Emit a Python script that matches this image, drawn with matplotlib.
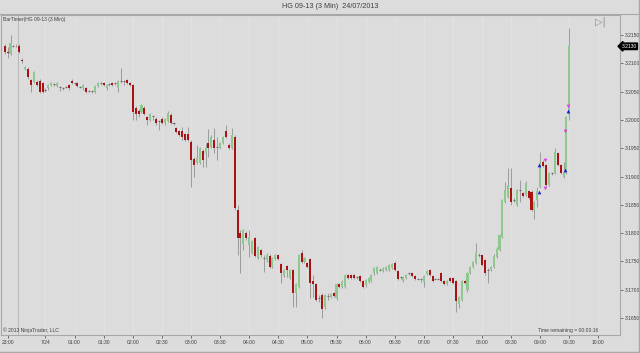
import numpy as np
import matplotlib
matplotlib.use("Agg")
import matplotlib.pyplot as plt

# HG 09-13, 3 minute bars, 23:48 -> 09:30
opens = [
    3.2131, 3.2120, 3.2116, 3.2131, 3.2131, 3.2131, 3.2106, 3.2090, 3.2090, 3.2070,
    3.2067, 3.2067, 3.2069, 3.2065, 3.2053, 3.2056, 3.2062, 3.2063, 3.2060, 3.2058,
    3.2056, 3.2058, 3.2062, 3.2069, 3.2065, 3.2065, 3.2058, 3.2056, 3.2056, 3.2051,
    3.2051, 3.2049, 3.2060, 3.2065, 3.2065, 3.2056, 3.2063, 3.2065, 3.2065, 3.2056,
    3.2069, 3.2069, 3.2070, 3.2065, 3.2062, 3.2021, 3.2016, 3.2014, 3.2021, 3.2005,
    3.2000, 3.2007, 3.2002, 3.1998, 3.2002, 3.1994, 3.1998, 3.2009, 3.1994, 3.1986,
    3.1980, 3.1980, 3.1975, 3.1975, 3.1961, 3.1931, 3.1924, 3.1924, 3.1945, 3.1941,
    3.1959, 3.1952, 3.1964, 3.1952, 3.1950, 3.1959, 3.1980, 3.1956, 3.1950, 3.1970,
    3.1841, 3.1800, 3.1781, 3.1800, 3.1779, 3.1765, 3.1791, 3.1756, 3.1770, 3.1756,
    3.1752, 3.1760, 3.1740, 3.1754, 3.1761, 3.1745, 3.1724, 3.1742, 3.1721, 3.1735,
    3.1694, 3.1705, 3.1765, 3.1749, 3.1747, 3.1754, 3.1715, 3.1710, 3.1685, 3.1691,
    3.1669, 3.1689, 3.1687, 3.1694, 3.1685, 3.1710, 3.1705, 3.1705, 3.1726, 3.1726,
    3.1726, 3.1722, 3.1724, 3.1715, 3.1708, 3.1714, 3.1715, 3.1729, 3.1729, 3.1735,
    3.1733, 3.1735, 3.1735, 3.1738, 3.1747, 3.1733, 3.1722, 3.1715, 3.1721, 3.1729,
    3.1729, 3.1724, 3.1719, 3.1719, 3.1714, 3.1728, 3.1735, 3.1724, 3.1719, 3.1719,
    3.1729, 3.1715, 3.1710, 3.1721, 3.1721, 3.1715, 3.1675, 3.1682, 3.1715, 3.1699,
    3.1729, 3.1740, 3.1747, 3.1761, 3.1761, 3.1752, 3.1735, 3.1735, 3.1740, 3.1758,
    3.1770, 3.1793, 3.1855, 3.1864, 3.1880, 3.1858, 3.1850, 3.1876, 3.1871, 3.1867,
    3.1874, 3.1873, 3.1841, 3.1858, 3.1881, 3.1926, 3.1920, 3.1885, 3.1906, 3.1906,
    3.1941, 3.1920, 3.1899, 3.1908, 3.2009,
]
highs = [
    3.2134, 3.2129, 3.2150, 3.2133, 3.2134, 3.2134, 3.2109, 3.2095, 3.2093, 3.2072,
    3.2087, 3.2070, 3.2072, 3.2067, 3.2056, 3.2063, 3.2067, 3.2065, 3.2067, 3.2060,
    3.2058, 3.2060, 3.2063, 3.2072, 3.2067, 3.2067, 3.2060, 3.2063, 3.2058, 3.2053,
    3.2053, 3.2062, 3.2067, 3.2067, 3.2067, 3.2063, 3.2065, 3.2067, 3.2067, 3.2070,
    3.2092, 3.2070, 3.2072, 3.2067, 3.2063, 3.2024, 3.2019, 3.2028, 3.2024, 3.2007,
    3.2012, 3.2009, 3.2005, 3.2000, 3.2005, 3.2003, 3.2016, 3.2012, 3.1996, 3.1988,
    3.1982, 3.1987, 3.1977, 3.1987, 3.1964, 3.1934, 3.1956, 3.1952, 3.1948, 3.1959,
    3.1984, 3.1973, 3.1986, 3.1970, 3.1961, 3.1972, 3.1991, 3.1959, 3.1986, 3.1973,
    3.1850, 3.1805, 3.1807, 3.1803, 3.1805, 3.1788, 3.1793, 3.1777, 3.1772, 3.1761,
    3.1765, 3.1763, 3.1758, 3.1763, 3.1763, 3.1747, 3.1737, 3.1744, 3.1737, 3.1737,
    3.1712, 3.1763, 3.1770, 3.1758, 3.1749, 3.1756, 3.1726, 3.1712, 3.1691, 3.1694,
    3.1693, 3.1694, 3.1694, 3.1696, 3.1712, 3.1712, 3.1717, 3.1728, 3.1728, 3.1728,
    3.1728, 3.1724, 3.1726, 3.1717, 3.1719, 3.1722, 3.1728, 3.1740, 3.1742, 3.1738,
    3.1740, 3.1742, 3.1745, 3.1747, 3.1751, 3.1735, 3.1724, 3.1724, 3.1728, 3.1731,
    3.1731, 3.1726, 3.1721, 3.1721, 3.1726, 3.1735, 3.1737, 3.1726, 3.1721, 3.1721,
    3.1731, 3.1717, 3.1717, 3.1722, 3.1722, 3.1717, 3.1689, 3.1717, 3.1717, 3.1731,
    3.1742, 3.1751, 3.1782, 3.1765, 3.1763, 3.1754, 3.1738, 3.1742, 3.1763, 3.1775,
    3.1798, 3.1860, 3.1890, 3.1915, 3.1915, 3.1862, 3.1878, 3.1894, 3.1873, 3.1892,
    3.1876, 3.1876, 3.1857, 3.1881, 3.1943, 3.1929, 3.1922, 3.1908, 3.1908, 3.1950,
    3.1943, 3.1922, 3.1926, 3.2007, 3.2162,
]
lows = [
    3.2116, 3.2109, 3.2114, 3.2129, 3.2129, 3.2118, 3.2101, 3.2088, 3.2073, 3.2049,
    3.2065, 3.2060, 3.2047, 3.2047, 3.2049, 3.2053, 3.2060, 3.2060, 3.2058, 3.2051,
    3.2053, 3.2056, 3.2053, 3.2063, 3.2062, 3.2058, 3.2056, 3.2053, 3.2047, 3.2049,
    3.2047, 3.2047, 3.2058, 3.2062, 3.2060, 3.2053, 3.2060, 3.2060, 3.2062, 3.2049,
    3.2065, 3.2062, 3.2063, 3.2060, 3.2000, 3.2000, 3.2005, 3.2012, 3.2009, 3.1991,
    3.1998, 3.2000, 3.1991, 3.1982, 3.1993, 3.1991, 3.1996, 3.1993, 3.1991, 3.1977,
    3.1972, 3.1964, 3.1963, 3.1963, 3.1881, 3.1899, 3.1922, 3.1922, 3.1917, 3.1917,
    3.1934, 3.1950, 3.1941, 3.1929, 3.1948, 3.1957, 3.1968, 3.1948, 3.1948, 3.1841,
    3.1761, 3.1729, 3.1770, 3.1788, 3.1758, 3.1763, 3.1758, 3.1754, 3.1758, 3.1731,
    3.1749, 3.1738, 3.1738, 3.1752, 3.1752, 3.1712, 3.1722, 3.1722, 3.1719, 3.1669,
    3.1669, 3.1703, 3.1747, 3.1747, 3.1738, 3.1685, 3.1687, 3.1680, 3.1678, 3.1650,
    3.1666, 3.1682, 3.1685, 3.1687, 3.1682, 3.1703, 3.1703, 3.1703, 3.1719, 3.1719,
    3.1719, 3.1719, 3.1714, 3.1703, 3.1705, 3.1712, 3.1714, 3.1726, 3.1728, 3.1733,
    3.1731, 3.1733, 3.1733, 3.1736, 3.1733, 3.1717, 3.1719, 3.1714, 3.1719, 3.1726,
    3.1722, 3.1717, 3.1717, 3.1714, 3.1705, 3.1726, 3.1724, 3.1714, 3.1717, 3.1717,
    3.1714, 3.1708, 3.1708, 3.1714, 3.1710, 3.1661, 3.1668, 3.1680, 3.1710, 3.1696,
    3.1728, 3.1738, 3.1745, 3.1758, 3.1742, 3.1726, 3.1712, 3.1733, 3.1738, 3.1756,
    3.1768, 3.1791, 3.1853, 3.1862, 3.1850, 3.1855, 3.1848, 3.1855, 3.1864, 3.1866,
    3.1860, 3.1839, 3.1825, 3.1846, 3.1879, 3.1917, 3.1883, 3.1883, 3.1903, 3.1904,
    3.1918, 3.1904, 3.1897, 3.1904, 3.2000,
]
closes = [
    3.2120, 3.2118, 3.2136, 3.2131, 3.2130, 3.2120, 3.2104, 3.2093, 3.2076, 3.2062,
    3.2085, 3.2062, 3.2049, 3.2049, 3.2053, 3.2062, 3.2065, 3.2063, 3.2065, 3.2058,
    3.2056, 3.2058, 3.2056, 3.2065, 3.2065, 3.2060, 3.2058, 3.2062, 3.2049, 3.2051,
    3.2051, 3.2060, 3.2065, 3.2065, 3.2062, 3.2062, 3.2063, 3.2062, 3.2065, 3.2069,
    3.2069, 3.2069, 3.2065, 3.2062, 3.2014, 3.2010, 3.2010, 3.2026, 3.2010, 3.2000,
    3.2010, 3.2007, 3.1994, 3.1998, 3.1994, 3.2002, 3.2012, 3.1994, 3.1994, 3.1979,
    3.1973, 3.1970, 3.1964, 3.1964, 3.1929, 3.1920, 3.1933, 3.1950, 3.1929, 3.1950,
    3.1950, 3.1970, 3.1950, 3.1952, 3.1959, 3.1970, 3.1970, 3.1950, 3.1973, 3.1844,
    3.1791, 3.1791, 3.1805, 3.1791, 3.1793, 3.1786, 3.1760, 3.1775, 3.1761, 3.1756,
    3.1761, 3.1740, 3.1756, 3.1761, 3.1754, 3.1729, 3.1735, 3.1735, 3.1735, 3.1694,
    3.1710, 3.1761, 3.1749, 3.1756, 3.1740, 3.1712, 3.1710, 3.1682, 3.1685, 3.1666,
    3.1691, 3.1689, 3.1692, 3.1689, 3.1710, 3.1705, 3.1714, 3.1726, 3.1721, 3.1721,
    3.1721, 3.1722, 3.1715, 3.1705, 3.1717, 3.1721, 3.1726, 3.1738, 3.1740, 3.1735,
    3.1738, 3.1740, 3.1744, 3.1745, 3.1735, 3.1719, 3.1722, 3.1722, 3.1726, 3.1729,
    3.1724, 3.1719, 3.1719, 3.1719, 3.1724, 3.1733, 3.1726, 3.1715, 3.1719, 3.1719,
    3.1715, 3.1710, 3.1715, 3.1715, 3.1712, 3.1680, 3.1687, 3.1715, 3.1712, 3.1729,
    3.1740, 3.1749, 3.1765, 3.1761, 3.1744, 3.1729, 3.1735, 3.1740, 3.1760, 3.1772,
    3.1796, 3.1858, 3.1876, 3.1885, 3.1855, 3.1858, 3.1876, 3.1876, 3.1866, 3.1888,
    3.1862, 3.1841, 3.1855, 3.1874, 3.1924, 3.1919, 3.1885, 3.1906, 3.1906, 3.1943,
    3.1920, 3.1906, 3.1908, 3.2005, 3.2130,
]

first_bar_minute = -12          # 23:48, minutes from midnight
bar_minutes = 3

# time axis labels (minutes from midnight)
tick_minutes = [30, 60, 90, 120, 150, 180, 210, 240, 270, 300, 330, 360,
                390, 420, 450, 480, 510, 540, 570, 600]
tick_labels = ["7/24", "01:00", "01:30", "02:00", "02:30", "03:00", "03:30",
               "04:00", "04:30", "05:00", "05:30", "06:00", "06:30", "07:00",
               "07:30", "08:00", "08:30", "09:00", "09:30", "10:00"]
first_label = "23:00"

price_ticks = [3.165, 3.170, 3.175, 3.180, 3.185, 3.190, 3.195, 3.200, 3.205,
               3.210, 3.215]

# execution markers: (bar, price)
buy_bars = [184, 184, 193, 194]
buy_prices = [3.1920, 3.1873, 3.1911, 3.2016]
sell_bars = [186, 186, 194, 193]
sell_prices = [3.1929, 3.1880, 3.2025, 3.1980]

BG = "#dcdcdc"
UP = "#8fc88f"
DOWN = "#a81212"
WICK = "#9c9c9c"
TXT = "#404040"

plt.rcParams["font.family"] = ["Liberation Sans", "DejaVu Sans"]

o = np.array(opens); h = np.array(highs); l = np.array(lows); c = np.array(closes)
idx = np.arange(len(o))

fig = plt.figure(figsize=(6.4, 3.53), dpi=100, facecolor=BG)
ax = fig.add_axes([1/640, 18/353, 619/640, 320/353], facecolor=BG)

tick_pos = [(m - first_bar_minute) / bar_minutes for m in tick_minutes]
for p in tick_pos:
    ax.axvline(p, color="#e4e4e4", lw=0.6, zorder=0)
ax.axvline((0 - first_bar_minute) / bar_minutes + 0.5, color="#b4b4b4", lw=0.6, zorder=0)

ax.vlines(idx, l, h, color=WICK, lw=0.7, zorder=1)
up = c > o
down = c < o
flat = c == o
ax.bar(idx[up], (c - o)[up], bottom=o[up], width=0.7, color=UP, lw=0, zorder=2)
ax.bar(idx[down], (o - c)[down], bottom=c[down], width=0.7, color=DOWN, lw=0, zorder=2)
ax.hlines(c[flat], idx[flat] - 0.35, idx[flat] + 0.35, color="#6a6a6a", lw=0.7, zorder=2)

ax.scatter(np.array(buy_bars) - 0.5, buy_prices, marker="^", s=7, color="#1a1ad8", zorder=3, lw=0)
ax.scatter(np.array(sell_bars) - 0.5, sell_prices, marker="v", s=7, color="#e03ce0", zorder=3, lw=0)

ax.set_xlim(-1.27, 211.4)
ax.set_ylim(3.1620, 3.21853)

ax.yaxis.tick_right()
ax.set_yticks(price_ticks)
ax.set_yticklabels([f"{p:.4f}" for p in price_ticks])
# the first label sits at the chart's left edge
ax.set_xticks([1.3] + tick_pos)
ax.set_xticklabels([first_label] + tick_labels)
ax.tick_params(axis="both", labelsize=3.6, colors=TXT, length=2, width=0.5, pad=1.5)

for s in ax.spines.values():
    s.set_color("#a8a8a8")
    s.set_linewidth(0.8)

# last price box
ax.text(211.9, closes[-1], f"{closes[-1]:.4f}", transform=ax.transData, fontsize=3.6,
        color="white", va="center", ha="left", clip_on=False,
        bbox=dict(boxstyle="larrow,pad=0.15", fc="black", ec="black"))

ax.text(0.003, 0.995, "BarTimer(HG 09-13 (3 Min))", transform=ax.transAxes,
        fontsize=3.6, color=TXT, va="top", ha="left")
ax.text(0.003, 0.006, "© 2013 NinjaTrader, LLC", transform=ax.transAxes,
        fontsize=3.6, color=TXT, va="bottom", ha="left")
ax.text(0.965, 0.006, "Time remaining = 00:00:16", transform=ax.transAxes,
        fontsize=3.6, color=TXT, va="bottom", ha="right")
ax.text(0.977, 0.995, "▷|", transform=ax.transAxes, fontsize=7, color="#888888",
        va="top", ha="right", family="DejaVu Sans")

fig.text(330/640, 1 - 7/353, "HG 09-13 (3 Min)  24/07/2013", fontsize=5.2,
         color=TXT, ha="center", va="center")
fig.add_artist(plt.Line2D([0, 1], [1 - 13.5/353, 1 - 13.5/353], color="#a8a8a8", lw=0.8))
fig.add_artist(plt.Line2D([0, 1], [0.002, 0.002], color="#a8a8a8", lw=1.0))
fig.add_artist(plt.Line2D([0.998, 0.998], [0, 1], color="#a8a8a8", lw=1.0))

fig.savefig("out.png", dpi=100, facecolor=BG)
